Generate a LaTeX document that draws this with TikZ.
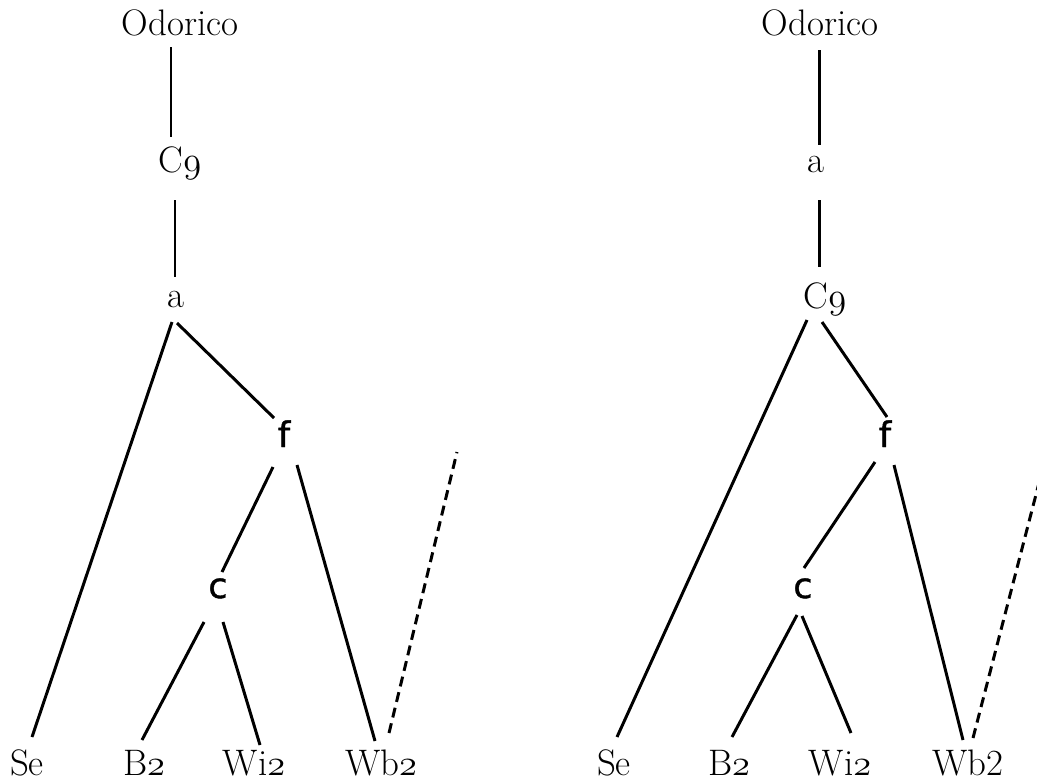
\documentclass[tikz,border=0pt]{standalone}
\usepackage{fontspec}
\newfontfamily\sfx[FakeBold=1.2]{DejaVu Sans}
\newcommand\osn[1]{{\usefont{OML}{cmm}{m}{it}#1}}
\begin{document}
\begin{tikzpicture}[x=0.02cm,y=-0.02cm,
  lbl/.style={inner sep=0pt, anchor=base, font=\fontsize{21}{24}\selectfont},
  sfl/.style={inner sep=0pt, anchor=base, font=\sfx\fontsize{20}{24}\selectfont},
  br/.style={line width=1.7pt},
  dsh/.style={line width=1.7pt, dash pattern=on 5.7pt off 3.4pt}]
\useasboundingbox (0,0) rectangle (1037,781);
% left tree
\node[lbl] (O1) at (180,35) {Odorico};
\node[lbl] (C1) at (180,172) {C\osn{9}};
\node[lbl] (a1) at (176,307) {a};
\node[sfl] (f1) at (284,447) {f};
\node[sfl] (c1) at (218,598) {c};
\node[lbl] (Se1) at (27,775) {Se};
\node[lbl] (B1) at (144,775) {B\osn{2}};
\node[lbl] (Wi1) at (254,775) {Wi\osn{2}};
\node[lbl] (Wb1) at (381,775) {Wb\osn{2}};
\coordinate (t1) at (457,452);
\draw[br] ([shift={(-9,12)}]O1.base) -- ([shift={(-9,-35)}]C1.base);
\draw[br] ([shift={(-5,28)}]C1.base) -- ([shift={(-1,-30)}]a1.base);
\draw[br] ([shift={(-4,15)}]a1.base) -- ([shift={(5,-38)}]Se1.base);
\draw[br] ([shift={(1,16)}]a1.base) -- ([shift={(-10,-29)}]f1.base);
\draw[br] ([shift={(-11,20)}]f1.base) -- ([shift={(4,-26)}]c1.base);
\draw[br] ([shift={(-14,24)}]c1.base) -- ([shift={(-2,-35)}]B1.base);
\draw[br] ([shift={(5,24)}]c1.base) -- ([shift={(6,-30)}]Wi1.base);
\draw[br] ([shift={(13,18)}]f1.base) -- ([shift={(-6,-34)}]Wb1.base);
\draw[dsh] ([shift={(8,-42)}]Wb1.base) -- (t1);
% right tree
\node[lbl] (O2) at (820,35) {Odorico};
\node[lbl] (a2) at (816,172) {a};
\node[lbl] (C2) at (825,308) {C\osn{9}};
\node[sfl] (f2) at (885,447) {f};
\node[sfl] (c2) at (803,598) {c};
\node[lbl] (Se2) at (614,775) {Se};
\node[lbl] (B2) at (729,775) {B\osn{2}};
\node[lbl] (Wi2) at (840,775) {Wi\osn{2}};
\node[lbl] (Wb2) at (968,775) {Wb2};
\coordinate (t2) at (1047,452);
\draw[br] ([shift={(-1,15)}]O2.base) -- ([shift={(3,-27)}]a2.base);
\draw[br] ([shift={(3,28)}]a2.base) -- ([shift={(-6,-41)}]C2.base);
\draw[br] ([shift={(-18,12)}]C2.base) -- ([shift={(3,-38)}]Se2.base);
\draw[br] ([shift={(-3,14)}]C2.base) -- ([shift={(2,-30)}]f2.base);
\draw[br] ([shift={(-10,15)}]f2.base) -- ([shift={(1,-30)}]c2.base);
\draw[br] ([shift={(-6,17)}]c2.base) -- ([shift={(3,-38)}]B2.base);
\draw[br] ([shift={(-1,18)}]c2.base) -- ([shift={(11,-42)}]Wi2.base);
\draw[br] ([shift={(9,18)}]f2.base) -- ([shift={(-5,-35)}]Wb2.base);
\draw[dsh] ([shift={(5,-37)}]Wb2.base) -- (t2);
\end{tikzpicture}
\end{document}
